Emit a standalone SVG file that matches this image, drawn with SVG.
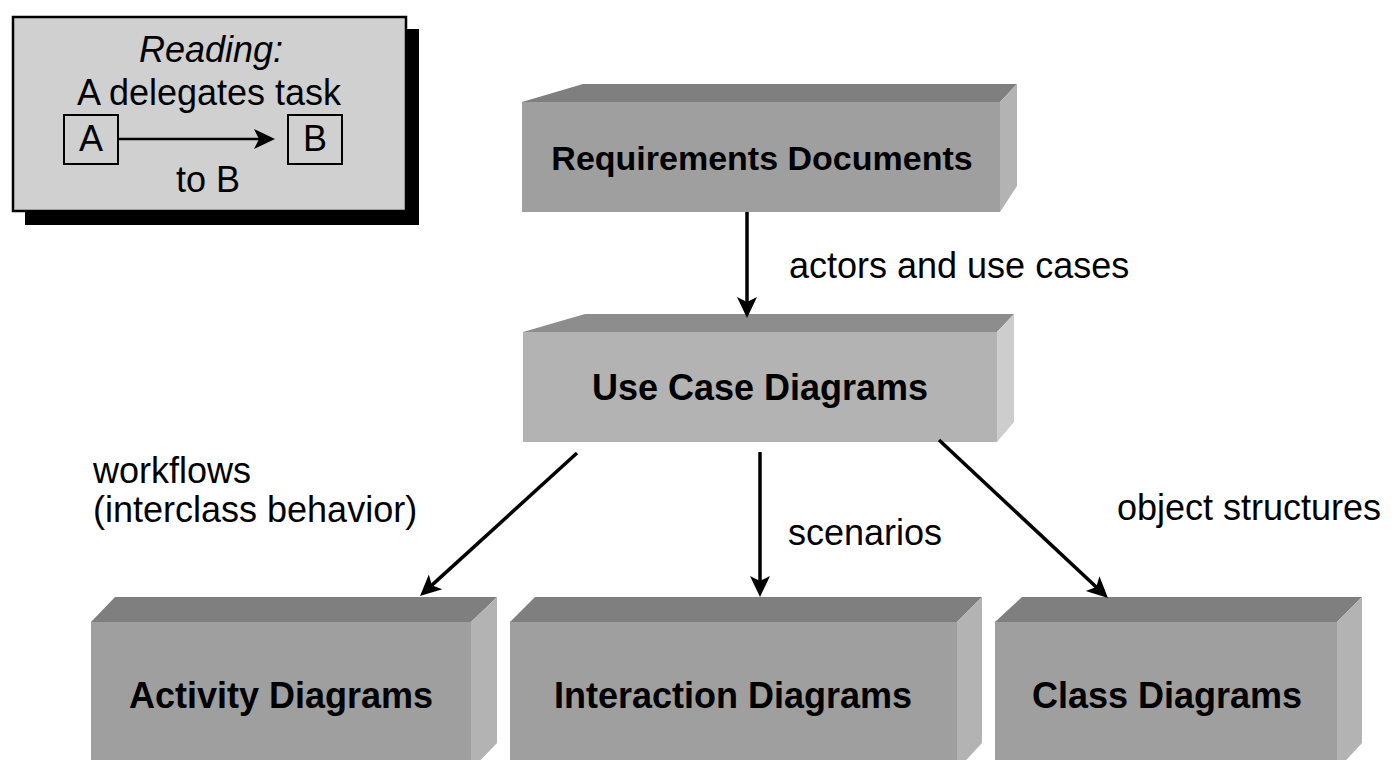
<svg xmlns="http://www.w3.org/2000/svg" width="1396" height="760" viewBox="0 0 1396 760">
  <style>
    text { font-family: "Liberation Sans", Arial, sans-serif; fill: #000; }
    .label { font-size: 36px; }
    .title { font-size: 36px; font-weight: bold; text-anchor: middle; }
    .mid { text-anchor: middle; }
    .top-d { fill: #7f7f7f; }
    .front-d { fill: #9f9f9f; }
    .side-d { fill: #b3b3b3; }
    .top-l { fill: #8d8d8d; }
    .front-l { fill: #b3b3b3; }
    .side-l { fill: #cdcdcd; }
    .edge { stroke: #000; stroke-width: 3.5; fill: none; marker-end: url(#head); }
    .thin { stroke: #000; stroke-width: 2; fill: none; }
  </style>
  <defs>
    <marker id="head" viewBox="-10 -11 24 22" refX="0" refY="0" markerWidth="24" markerHeight="22" markerUnits="userSpaceOnUse" orient="auto">
      <path d="M12,0 L-9,-10 L-4,0 L-9,10 Z" fill="#000"/>
    </marker>
  </defs>

  <rect width="1396" height="760" fill="#fff"/>

  <!-- legend -->
  <g id="legend">
    <rect x="25" y="29" width="394" height="196" fill="#000"/>
    <rect x="13" y="17" width="393" height="194" fill="#d0d0d0" stroke="#000" stroke-width="2.5"/>
    <text class="label mid" x="211" y="62" font-style="italic">Reading:</text>
    <text class="label mid" x="209" y="105">A delegates task</text>
    <rect x="64" y="115" width="54" height="49" class="thin"/>
    <text class="label mid" x="91" y="151">A</text>
    <rect x="288" y="115" width="54" height="49" class="thin"/>
    <text class="label mid" x="315" y="151">B</text>
    <line x1="118" y1="139" x2="263" y2="139" stroke="#000" stroke-width="2.5" marker-end="url(#head)"/>
    <text class="label mid" x="208" y="192">to B</text>
  </g>

  <!-- nodes -->
  <g id="requirements">
    <polygon class="top-d" points="522,102 583,84 1017,84 1000,102"/>
    <polygon class="side-d" points="1000,102 1017,84 1017,186 1000,212"/>
    <rect class="front-d" x="522" y="102" width="478" height="110"/>
    <text class="title" x="762" y="170" style="font-size:34px">Requirements Documents</text>
  </g>

  <g id="usecase">
    <polygon class="top-l" points="523,332 585,314 1014,314 997,332"/>
    <polygon class="side-l" points="997,332 1014,314 1014,422 997,442"/>
    <rect class="front-l" x="523" y="332" width="474" height="110"/>
    <text class="title" x="760" y="400">Use Case Diagrams</text>
  </g>

  <g id="activity">
    <polygon class="top-d" points="91,622 115,597 497,597 471,622"/>
    <polygon class="side-d" points="471,622 497,597 497,743 471,770"/>
    <rect class="front-d" x="91" y="622" width="380" height="150"/>
    <text class="title" x="281" y="708">Activity Diagrams</text>
  </g>

  <g id="interaction">
    <polygon class="top-d" points="510,622 535,597 982,597 957,622"/>
    <polygon class="side-d" points="957,622 982,597 982,743 957,770"/>
    <rect class="front-d" x="510" y="622" width="447" height="150"/>
    <text class="title" x="733" y="708">Interaction Diagrams</text>
  </g>

  <g id="class">
    <polygon class="top-d" points="995,622 1022,597 1362,597 1337,622"/>
    <polygon class="side-d" points="1337,622 1362,597 1362,743 1337,770"/>
    <rect class="front-d" x="995" y="622" width="342" height="150"/>
    <text class="title" x="1167" y="708">Class Diagrams</text>
  </g>

  <!-- connectors -->
  <g id="connectors">
    <line class="edge" x1="747" y1="212" x2="747" y2="306"/>
    <line class="edge" x1="577" y1="453" x2="428.9" y2="587.9"/>
    <line class="edge" x1="760" y1="452" x2="760" y2="585"/>
    <line class="edge" x1="939" y1="440" x2="1099.2" y2="589.8"/>
  </g>

  <!-- connector labels -->
  <g id="labels">
    <text class="label" x="789" y="278">actors and use cases</text>
    <text class="label" x="93" y="483">workflows</text>
    <text class="label" x="93" y="522">(interclass behavior)</text>
    <text class="label" x="788" y="545">scenarios</text>
    <text class="label" x="1117" y="520">object structures</text>
  </g>
</svg>
